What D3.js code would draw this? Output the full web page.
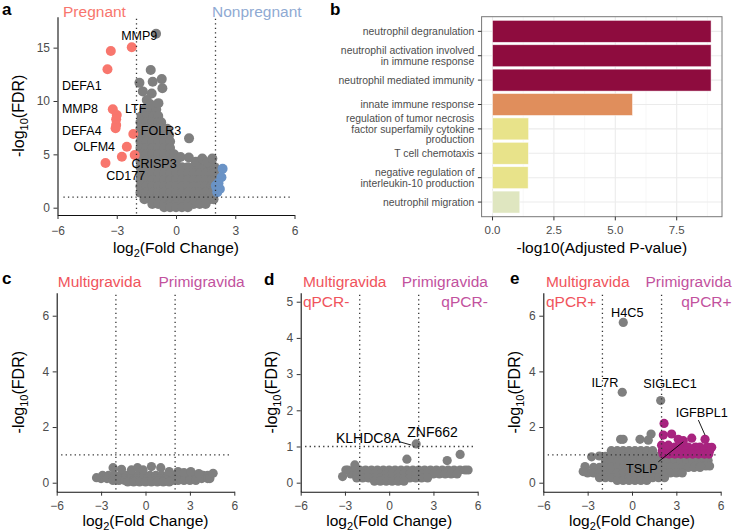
<!DOCTYPE html>
<html><head><meta charset="utf-8">
<script src="https://cdn.jsdelivr.net/npm/d3@7"></script>
<style>body{margin:0;background:#fff}svg{display:block}</style>
</head><body>
<svg id="chart" width="733" height="532"></svg>
<script>
// ===================== DATA =====================
const fcTicks = [-6, -3, 0, 3, 6];
const aYTicks = [0, 5, 10, 15];
const cYTicks = [0, 2, 4, 6];
const dYTicks = [0, 1, 2, 3, 4, 5];
const eYTicks = [0, 2, 4, 6];

// Panel a: rows are [log10FDR, log2FC, log2FC, ...]
const aGrayRows = [
  [9.2, -1.6, -1.3, -1.0],
  [8.6, -1.75, -1.45, -1.15, -0.9],
  [8.0, -1.8, -1.5, -1.2, -0.9, -0.75],
  [7.4, -1.8, -1.5, -1.2, -0.9, -0.6, -0.45],
  [6.8, -1.8, -1.5, -1.2, -0.9, -0.6, -0.35],
  [6.2, -1.8, -1.5, -1.2, -0.9, -0.6, -0.3],
  [5.6, -1.8, -1.5, -1.2, -0.9, -0.6, -0.3],
  [5.0, -1.8, -1.5, -1.2, -0.9, -0.6, -0.3, -0.1],
  [4.4, -1.8, -1.5, -1.2, -0.9, -0.6, -0.3, 0.0],
  [3.8, -1.8, -1.5, -1.2, -0.9, -0.6, -0.3, 0.0, 0.3, 0.6, 0.9, 1.2, 1.5, 1.8, 1.95],
  [3.2, -1.8, -1.5, -1.2, -0.9, -0.6, -0.3, 0.0, 0.3, 0.6, 0.9, 1.2, 1.5, 1.8, 1.95],
  [2.6, -1.8, -1.5, -1.2, -0.9, -0.6, -0.3, 0.0, 0.3, 0.6, 0.9, 1.2, 1.5, 1.8, 1.95],
  [2.0, -1.8, -1.5, -1.2, -0.9, -0.6, -0.3, 0.0, 0.3, 0.6, 0.9, 1.2, 1.5, 1.8, 1.95],
  [1.4, -1.8, -1.5, -1.2, -0.9, -0.6, -0.3, 0.0, 0.3, 0.6, 0.9, 1.2, 1.5, 1.8, 1.95],
  [0.8, -1.6, -1.3, -1.0, -0.7, -0.4, -0.1, 0.2, 0.5, 0.8, 1.1, 1.4, 1.7, 1.9],
  [0.35, -1.2, -0.9, -0.6, -0.3, 0.0, 0.3, 0.6, 0.9, 1.2, 1.5],
  [0.05, -0.6, -0.3, 0.0, 0.3, 0.6]
];
const aGrayExtra = [[-1.01,16.3],[-1.28,12.9],[-1.85,11.7],[-1.18,11.8],[-0.72,12.05],[-1.68,10.9],
  [-1.23,10.7],[-0.69,11.2],[-1.48,10.1],[-0.89,9.8],[-1.3,9.7],[0.66,6.5],
  [0.23,4.75],[0.65,4.7],[1.0,4.3],[1.33,4.6],[1.6,4.25],[1.84,4.6]];
const aUpPregnant = [[-3.3,14.69],[-2.24,15.03],[-3.47,12.97],[-3.2,9.22],[-3.0,8.69],[-3.03,8.28],
  [-3.03,7.75],[-3.06,7.44],[-2.16,6.91],[-2.49,5.72],[-2.74,4.78],[-2.09,4.94],[-3.57,4.19]];
const aUpNonpregnant = [[2.36,3.65],[2.3,2.86],[2.02,2.07],[2.22,1.76],[2.09,1.45],[2.05,1.9],[2.15,2.3]];
const aLabels = [
  {t:"MMP9",x:-1.86,y:16.1},{t:"DEFA1",x:-4.77,y:11.4},{t:"MMP8",x:-4.86,y:9.32},
  {t:"LTF",x:-2.04,y:9.32},{t:"DEFA4",x:-4.77,y:7.22},{t:"FOLR3",x:-0.76,y:7.22},
  {t:"OLFM4",x:-4.14,y:5.72},{t:"CRISP3",x:-1.11,y:4.1},{t:"CD177",x:-2.55,y:3.0}];

// Panel b
const goTerms = ["neutrophil degranulation",
  "neutrophil activation involved\nin immune response",
  "neutrophil mediated immunity",
  "innate immune response",
  "regulation of tumor necrosis\nfactor superfamily cytokine\nproduction",
  "T cell chemotaxis",
  "negative regulation of\ninterleukin-10 production",
  "neutrophil migration"];
const goValues = [8.9, 8.9, 8.9, 5.7, 1.47, 1.46, 1.45, 1.11];
const goXTicks = [0, 2.5, 5, 7.5];
const goMinorTicks = [1.25, 3.75, 6.25, 8.75];

// Panel c
const cGrayRows = [
  [0.26, -2.9,-2.5,-2.1,-1.7,-1.3,-0.9,-0.5,-0.1,0.3,0.7,1.1,1.5,1.9,2.3,2.7,3.1,3.5,3.9,4.2],
  [0.15, -3.0,-2.6,-2.2,-1.8,-1.4,-1.0,-0.6,-0.2,0.2,0.6,1.0,1.4,1.8,2.2,2.6,3.0,3.4,3.8,4.2,4.35],
  [0.08, -2.2,-1.8,-1.4,-1.0,-0.6,-0.2,0.2,0.6,1.0,1.4,1.8,2.2,2.6,3.0,3.4],
  [0.03, -1.2,-0.8,-0.4,0.0,0.4,0.8,1.2,1.6]
];
const cGrayExtra = [[-3.31,0.18],[4.57,0.34],[-2.19,0.54],[-1.62,0.48],[-0.95,0.46],[-0.54,0.54],
  [-0.16,0.46],[0.4,0.58],[1.03,0.54],[1.6,0.4],[2.2,0.4],[2.6,0.36],[3.06,0.4],[3.6,0.33]];

// Panel d
const dGrayRows = [
  [0.35, -2.8,-2.4,-2.0,-1.6,-1.2,-0.8,-0.4,0.0,0.4,0.8,1.2,1.6,2.0,2.4,2.8,3.2,3.6,4.0,4.4,4.8,5.15,5.35],
  [0.24, -2.6,-2.2,-1.8,-1.4,-1.0,-0.6,-0.2,0.2,0.6,1.0,1.4,1.8,2.2,2.6,3.0,3.4,3.8,4.2,4.6],
  [0.13, -2.2,-1.8,-1.4,-1.0,-0.6,-0.2,0.2,0.6,1.0,1.4,1.8,2.2,2.6],
  [0.04, -1.0,-0.6,-0.2,0.2,0.6,1.0]
];
const dGrayExtra = [[1.83,1.07],[1.2,0.65],[3.93,0.61],[4.81,0.78],[-2.33,0.49],[-2.94,0.35],[-3.16,0.17]];
const dLabels = [{t:"ZNF662",x:2.94,y:1.41},{t:"KLHDC8A",x:-1.42,y:1.24}];
const dLeaders = [{x1:0.71,y1:1.13,x2:1.49,y2:1.04}];

// Panel e
const eGrayRows = [
  [1.15, -1.4,-1.0,-0.6,-0.2,0.2,0.6,1.0,1.4],
  [0.95, -1.8,-1.4,-1.0,-0.6,-0.2,0.2,0.6,1.0,1.4,1.75],
  [0.8, 2.1,2.5,2.9,3.3,3.7,4.1,4.5,4.9,5.15],
  [0.75, -1.8,-1.4,-1.0,-0.6,-0.2,0.2,0.6,1.0,1.4,1.8],
  [0.6, 4.6,5.0,5.25],
  [0.55, -2.6,-2.2,-1.8,-1.4,-1.0,-0.6,-0.2,0.2,0.6,1.0,1.4,1.8,2.2,2.6,3.0,3.4,3.8,4.2,4.6],
  [0.35, -3.0,-2.6,-2.2,-1.8,-1.4,-1.0,-0.6,-0.2,0.2,0.6,1.0,1.4,1.8,2.2,2.6,3.0,3.4],
  [0.18, -2.2,-1.8,-1.4,-1.0,-0.6,-0.2,0.2,0.6,1.0,1.4,1.8,2.2],
  [0.08, -1.0,-0.6,-0.2,0.2,0.6,1.0]
];
const eGrayExtra = [[-0.59,5.76],[-0.66,3.25],[1.94,2.95],[-0.77,1.56],[-0.6,1.56],[0.54,1.56],
  [1.29,1.75],[1.1,1.53],[-2.73,0.93],[-2.21,0.96],[-3.18,0.58],[-3.3,0.4]];
const ePrimiRows = [
  [1.28, 2.9,3.3,3.8,4.3,4.6,5.1],
  [1.15, 2.05,2.45,2.85,3.25,3.65,4.05,4.45,4.85,5.25],
  [1.03, 2.1,2.5,2.9,3.3,3.7,4.1,4.5,4.9,5.2]
];
const ePrimiExtra = [[2.17,2.13],[2.68,1.75],[2.12,1.71],[3.13,1.56],[3.47,1.51],[4.04,1.6],
  [4.94,1.56],[5.39,1.27],[2.0,1.35],[2.46,1.35]];
const eLabels = [{t:"H4C5",x:-0.32,y:6.12},{t:"IL7R",x:-1.83,y:3.59},{t:"SIGLEC1",x:2.57,y:3.55},
  {t:"IGFBPL1",x:4.72,y:2.52},{t:"TSLP",x:0.66,y:0.52}];
const eLeaders = [{x1:4.49,y1:2.25,x2:4.94,y2:1.71},{x1:1.78,y1:0.75,x2:3.47,y2:1.47}];

// ===================== STYLE =====================
const FONT = "'Liberation Sans', Arial, Helvetica, sans-serif";
const GRAY = "#7f7f7f", RED = "#F8766D", BLUE = "#6A93C6", MAGENTA = "#A8237F";
const goColors = ["#8E0C3E","#8E0C3E","#8E0C3E","#E08E5C","#E8E38A","#E8E38A","#E8E38A","#DFE6C0"];

const svg = d3.select("#chart").style("font-family", FONT);
svg.append("rect").attr("width",733).attr("height",532).attr("fill","#fff");

const rowsToPts = rows => rows.flatMap(r => r.slice(1).map(x => [x, r[0]]));
const intFmt = d3.format("d");

function drawVolcano(cfg) {
  const g = svg.append("g");
  const x = d3.scaleLinear().domain([-6, 6]).range([cfg.left, cfg.right]);
  const y = d3.scaleLinear().domain(cfg.yDomain).range([cfg.bottom, cfg.top]);
  cfg.layers.forEach(L => {
    g.append("g").selectAll("circle").data(L.points).join("circle")
      .attr("cx", d => x(d[0])).attr("cy", d => y(d[1])).attr("r", cfg.r).attr("fill", L.color);
  });
  const dotted = sel => sel.attr("stroke","#333").attr("stroke-width",1.3).attr("stroke-dasharray","1.3,3.2").attr("fill","none");
  [-2, 2].forEach(v => g.append("line").attr("x1",x(v)).attr("x2",x(v))
    .attr("y1",cfg.top+2).attr("y2",cfg.bottom).call(dotted));
  g.append("line").attr("x1",x(-5.7)).attr("x2",x(5.8)).attr("y1",y(1)).attr("y2",y(1)).call(dotted);

  // leaders and labels
  (cfg.leaders||[]).forEach(l => g.append("line").attr("x1",x(l.x1)).attr("y1",y(l.y1))
    .attr("x2",x(l.x2)).attr("y2",y(l.y2)).attr("stroke","#000").attr("stroke-width",0.9));
  g.append("g").selectAll("text").data(cfg.labels||[]).join("text")
    .attr("x", d => x(d.x)).attr("y", d => y(d.y)).attr("dy","0.35em")
    .attr("text-anchor","middle").attr("font-size",cfg.labelSize).attr("fill","#000").text(d => d.t);

  // axes
  const xa = g.append("g").attr("transform",`translate(0,${cfg.bottom})`)
    .call(d3.axisBottom(x).tickValues(fcTicks).tickFormat(intFmt).tickSize(4).tickSizeOuter(0).tickPadding(cfg.xPad));
  const ya = g.append("g").attr("transform",`translate(${cfg.left},0)`)
    .call(d3.axisLeft(y).tickValues(cfg.yTicks).tickFormat(intFmt).tickSize(4).tickSizeOuter(0).tickPadding(3.5));
  [xa, ya].forEach(a => {
    a.select(".domain").attr("stroke","#111").attr("stroke-width",1.1);
    a.selectAll(".tick line").attr("stroke","#333").attr("stroke-width",1);
    a.selectAll(".tick text").attr("fill","#4D4D4D").attr("font-size",12).attr("font-family",FONT);
  });

  // x title
  const xt = g.append("text").attr("x",(cfg.left+cfg.right)/2).attr("y",cfg.xTitleY)
    .attr("text-anchor","middle").attr("font-size",15.5).attr("fill","#000");
  xt.append("tspan").text("log");
  xt.append("tspan").attr("font-size",11).attr("dy",4).text("2");
  xt.append("tspan").attr("dy",-4).text("(Fold Change)");
  // y title
  const yt = g.append("text").attr("transform",`translate(${cfg.yTitleX},${(cfg.top+cfg.bottom)/2}) rotate(-90)`)
    .attr("text-anchor","middle").attr("dy","0.35em").attr("font-size",16).attr("fill","#000");
  yt.append("tspan").text("-log");
  yt.append("tspan").attr("font-size",11).attr("dy",4).text("10");
  yt.append("tspan").attr("dy",-4).text("(FDR)");

  // group headers
  cfg.headers.forEach(h => {
    g.append("text").attr("x", x(h.x)).attr("y", h.y)
      .attr("text-anchor", h.anchor).attr("font-size",15.5).attr("fill",h.color).text(h.t);
  });
  // panel letter
  svg.append("text").attr("x",cfg.letterX).attr("y",cfg.letterY).attr("font-size",17)
    .attr("font-weight","bold").attr("fill","#000").text(cfg.letter);
}

// ---------- Panel a ----------
drawVolcano({
  left:57.5, right:294.5, top:16.7, bottom:215, yDomain:[-0.684, 17.9], yTicks:aYTicks, r:5,
  layers:[{points:rowsToPts(aGrayRows).concat(aGrayExtra), color:GRAY},
          {points:aUpPregnant, color:RED},{points:aUpNonpregnant, color:BLUE}],
  labels:aLabels, labelSize:12.5, xPad:7.5, xTitleY:253, yTitleX:18,
  headers:[{t:"Pregnant",x:-5.72,y:17.3,anchor:"start",color:RED},
           {t:"Nonpregnant",x:6.36,y:17.3,anchor:"end",color:"#8FAAD3"}],
  letter:"a", letterX:2, letterY:15
});

// ---------- Panel c ----------
const MULTI = "#F0545C", PRIMI = "#C2529E";
drawVolcano({
  left:56.7, right:234.3, top:292.7, bottom:491.7, yDomain:[-0.323, 6.827], yTicks:cYTicks, r:4.6,
  layers:[{points:rowsToPts(cGrayRows).concat(cGrayExtra), color:GRAY}],
  labels:[], labelSize:12.5, xPad:5.5, xTitleY:525.5, yTitleX:18,
  headers:[{t:"Multigravida",x:-5.93,y:286.5,anchor:"start",color:MULTI},
           {t:"Primigravida",x:6.7,y:286.5,anchor:"end",color:PRIMI}],
  letter:"c", letterX:2, letterY:284
});

// ---------- Panel d ----------
drawVolcano({
  left:300.7, right:477.7, top:292.7, bottom:491.7, yDomain:[-0.249, 5.249], yTicks:dYTicks, r:4.6,
  layers:[{points:rowsToPts(dGrayRows).concat(dGrayExtra), color:GRAY}],
  labels:dLabels, leaders:dLeaders, labelSize:14, xPad:5.5, xTitleY:525.5, yTitleX:271.7,
  headers:[{t:"Multigravida",x:-5.85,y:286.5,anchor:"start",color:MULTI},
           {t:"qPCR-",x:-5.85,y:307,anchor:"start",color:MULTI},
           {t:"Primigravida",x:6.69,y:286.5,anchor:"end",color:PRIMI},
           {t:"qPCR-",x:6.69,y:307,anchor:"end",color:PRIMI}],
  letter:"d", letterX:264, letterY:285
});

// ---------- Panel e ----------
drawVolcano({
  left:543.3, right:720.7, top:292.7, bottom:491.7, yDomain:[-0.323, 6.827], yTicks:eYTicks, r:4.6,
  layers:[{points:rowsToPts(eGrayRows).concat(eGrayExtra), color:GRAY},
          {points:rowsToPts(ePrimiRows).concat(ePrimiExtra), color:MAGENTA}],
  labels:eLabels, leaders:eLeaders, labelSize:12.7, xPad:5.5, xTitleY:525.5, yTitleX:514,
  headers:[{t:"Multigravida",x:-5.82,y:286.5,anchor:"start",color:MULTI},
           {t:"qPCR+",x:-5.82,y:307,anchor:"start",color:MULTI},
           {t:"Primigravida",x:6.74,y:286.5,anchor:"end",color:PRIMI},
           {t:"qPCR+",x:6.74,y:307,anchor:"end",color:PRIMI}],
  letter:"e", letterX:510, letterY:284
});

// ---------- Panel b ----------
(function(){
  const g = svg.append("g");
  const L = 481.6, R = 722, T = 16.7, B = 216.7;
  const x = d3.scaleLinear().domain([-0.445, 9.345]).range([L, R]);
  const y = d3.scaleBand().domain(goTerms).range([T, B]).paddingInner(0.1).paddingOuter(0.15);
  // grid
  g.append("g").selectAll("line").data(goMinorTicks).join("line")
    .attr("x1",d=>x(d)).attr("x2",d=>x(d)).attr("y1",T).attr("y2",B)
    .attr("stroke","#F2F2F2").attr("stroke-width",0.6);
  g.append("g").selectAll("line").data(goXTicks).join("line")
    .attr("x1",d=>x(d)).attr("x2",d=>x(d)).attr("y1",T).attr("y2",B)
    .attr("stroke","#EBEBEB").attr("stroke-width",1.1);
  g.append("g").selectAll("line").data(goTerms).join("line")
    .attr("x1",L).attr("x2",R).attr("y1",d=>y(d)+y.bandwidth()/2).attr("y2",d=>y(d)+y.bandwidth()/2)
    .attr("stroke","#EBEBEB").attr("stroke-width",1.1);
  // bars
  g.append("g").selectAll("rect").data(goTerms).join("rect")
    .attr("x", x(0)).attr("y", d => y(d))
    .attr("width", (d,i) => x(goValues[i]) - x(0)).attr("height", y.bandwidth())
    .attr("fill", (d,i) => goColors[i]).attr("stroke","#fff").attr("stroke-width",0.7).attr("stroke-opacity",0.7);
  // border
  g.append("rect").attr("x",L).attr("y",T).attr("width",R-L).attr("height",B-T)
    .attr("fill","none").attr("stroke","#777").attr("stroke-width",1);
  // y ticks + labels
  goTerms.forEach(t => {
    const cy = y(t) + y.bandwidth()/2;
    g.append("line").attr("x1",L-3.7).attr("x2",L).attr("y1",cy).attr("y2",cy).attr("stroke","#333").attr("stroke-width",1);
    const lines = t.split("\n"), lh = 10.8;
    const tx = g.append("text").attr("x",L-7.3).attr("y",cy).attr("text-anchor","end")
      .attr("font-size",10.4).attr("fill","#4D4D4D");
    lines.forEach((s,k) => tx.append("tspan").attr("x",L-7.3)
      .attr("y", cy + (k - (lines.length-1)/2)*lh).attr("dy","0.35em").text(s));
  });
  // x ticks
  goXTicks.forEach(v => {
    g.append("line").attr("x1",x(v)).attr("x2",x(v)).attr("y1",B).attr("y2",B+3.7).attr("stroke","#333").attr("stroke-width",1);
    g.append("text").attr("x",x(v)).attr("y",233.5).attr("text-anchor","middle")
      .attr("font-size",11.5).attr("fill","#4D4D4D").text(d3.format(".1f")(v));
  });
  g.append("text").attr("x",(L+R)/2).attr("y",252.5).attr("text-anchor","middle")
    .attr("font-size",15.5).attr("fill","#000").text("-log10(Adjusted P-value)");
  svg.append("text").attr("x",330).attr("y",15).attr("font-size",17).attr("font-weight","bold").text("b");
})();
</script>
</body></html>
